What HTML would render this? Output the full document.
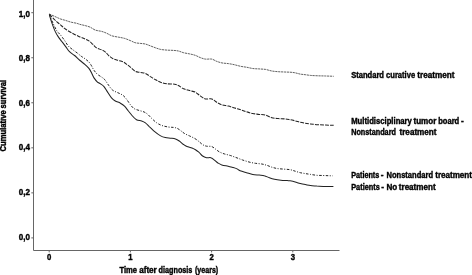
<!DOCTYPE html>
<html><head><meta charset="utf-8"><title>Cumulative survival</title>
<style>
html,body{margin:0;padding:0;background:#fff;}
svg{display:block;}
.t{font-family:"Liberation Sans",sans-serif;font-weight:bold;font-size:8.8px;fill:#000;stroke:#000;stroke-width:0.4px;}
.n{font-size:9.3px;}
.ax{stroke:#666;stroke-width:1;fill:none;}
.tk{stroke:#666;stroke-width:1;fill:none;}
.c{fill:none;stroke:#222;stroke-width:1;stroke-linejoin:round;}
</style></head><body>
<svg width="472" height="275" viewBox="0 0 472 275">
<rect width="472" height="275" fill="#fff"/>
<path class="ax" d="M33.5 0 V250.5 H339.5"/>
<line x1="31.3" y1="237.90" x2="33" y2="237.90" class="tk"/>
<text x="18.7" y="239.50" textLength="11.2" lengthAdjust="spacingAndGlyphs" class="t n">0,0</text>
<line x1="31.3" y1="192.86" x2="33" y2="192.86" class="tk"/>
<text x="18.7" y="194.94" textLength="11.2" lengthAdjust="spacingAndGlyphs" class="t n">0,2</text>
<line x1="31.3" y1="147.82" x2="33" y2="147.82" class="tk"/>
<text x="18.7" y="150.38" textLength="11.2" lengthAdjust="spacingAndGlyphs" class="t n">0,4</text>
<line x1="31.3" y1="102.78" x2="33" y2="102.78" class="tk"/>
<text x="18.7" y="105.82" textLength="11.2" lengthAdjust="spacingAndGlyphs" class="t n">0,6</text>
<line x1="31.3" y1="57.74" x2="33" y2="57.74" class="tk"/>
<text x="18.7" y="61.26" textLength="11.2" lengthAdjust="spacingAndGlyphs" class="t n">0,8</text>
<line x1="31.3" y1="12.70" x2="33" y2="12.70" class="tk"/>
<text x="18.7" y="16.70" textLength="11.2" lengthAdjust="spacingAndGlyphs" class="t n">1,0</text>
<line x1="49.20" y1="251" x2="49.20" y2="252.4" class="tk"/>
<text x="47.10" y="259.9" textLength="4.3" lengthAdjust="spacingAndGlyphs" class="t n">0</text>
<line x1="130.40" y1="251" x2="130.40" y2="252.4" class="tk"/>
<text x="128.30" y="259.9" textLength="4.3" lengthAdjust="spacingAndGlyphs" class="t n">1</text>
<line x1="211.60" y1="251" x2="211.60" y2="252.4" class="tk"/>
<text x="209.50" y="259.9" textLength="4.3" lengthAdjust="spacingAndGlyphs" class="t n">2</text>
<line x1="292.80" y1="251" x2="292.80" y2="252.4" class="tk"/>
<text x="290.70" y="259.9" textLength="4.3" lengthAdjust="spacingAndGlyphs" class="t n">3</text>

<path class="c" style="stroke:#2a2a2a;stroke-width:0.75;stroke-dasharray:2.2 0.7" d="M49.4 14.0 C50.3 14.4 53.1 15.7 54.9 16.5 C56.7 17.3 58.5 18.2 60.3 18.9 C62.1 19.6 64.0 19.9 65.8 20.5 C67.6 21.1 69.4 21.7 71.2 22.2 C73.0 22.7 75.2 22.9 76.7 23.3 C78.2 23.7 78.6 24.0 80.0 24.4 C81.4 24.8 83.4 25.1 85.1 25.6 C86.8 26.1 88.5 26.4 90.2 27.2 C91.9 27.9 93.4 29.4 95.3 30.1 C97.2 30.8 99.8 30.9 101.7 31.4 C103.6 31.9 105.1 32.6 106.8 33.3 C108.5 34.0 109.9 35.2 111.8 35.8 C113.7 36.4 116.1 36.7 118.2 37.1 C120.3 37.5 122.5 37.8 124.6 38.4 C126.7 39.0 129.2 40.2 131.0 40.9 C132.8 41.6 133.6 42.3 135.1 42.7 C136.6 43.1 138.5 43.2 140.2 43.4 C141.9 43.6 143.6 43.6 145.3 44.0 C147.0 44.4 148.7 45.3 150.4 45.9 C152.1 46.5 153.8 47.2 155.5 47.8 C157.2 48.4 158.7 49.0 160.6 49.4 C162.5 49.8 164.8 49.9 166.9 50.1 C169.0 50.3 171.4 50.2 173.3 50.4 C175.2 50.5 176.7 50.6 178.4 51.0 C180.1 51.4 181.6 52.2 183.5 52.7 C185.4 53.2 187.7 53.5 189.6 53.9 C191.5 54.3 193.4 54.7 195.2 55.3 C197.0 55.9 198.6 57.0 200.3 57.6 C202.0 58.2 203.5 58.9 205.4 59.1 C207.3 59.4 209.9 58.7 211.8 59.1 C213.7 59.5 215.1 60.8 216.8 61.4 C218.5 62.0 220.0 62.5 221.9 62.9 C223.8 63.3 226.2 63.3 228.3 63.6 C230.4 63.9 232.6 64.3 234.7 64.8 C236.8 65.3 239.1 66.0 241.1 66.4 C243.1 66.8 244.5 66.9 246.4 67.2 C248.3 67.5 250.6 68.2 252.7 68.5 C254.8 68.8 257.0 68.8 259.1 68.9 C261.2 69.1 263.4 69.1 265.5 69.4 C267.6 69.8 269.7 70.6 271.8 71.0 C273.9 71.4 276.1 71.5 278.2 71.7 C280.3 71.9 282.6 71.9 284.6 72.0 C286.6 72.1 288.2 72.1 290.0 72.2 C291.8 72.3 293.4 72.5 295.1 72.8 C296.8 73.1 298.5 73.8 300.2 74.1 C301.9 74.4 303.6 74.5 305.3 74.7 C307.0 74.9 308.3 75.2 310.4 75.4 C312.5 75.6 315.4 75.7 318.0 75.8 C320.6 75.9 323.1 75.9 325.7 76.0 C328.3 76.1 332.4 76.2 333.7 76.3"/>
<path class="c" style="stroke-width:1.05;stroke-dasharray:3.9 1.1" d="M49.4 14.2 C50.3 15.2 53.1 18.2 54.9 20.0 C56.7 21.8 58.5 23.1 60.3 24.7 C62.1 26.2 63.6 27.8 65.8 29.3 C68.0 30.8 70.9 32.5 73.3 33.8 C75.7 35.1 78.0 36.0 80.0 36.9 C82.0 37.8 83.6 38.3 85.1 39.0 C86.6 39.7 87.6 40.0 88.9 40.9 C90.2 41.8 91.4 43.0 92.7 44.2 C94.0 45.4 95.1 47.0 96.6 47.9 C98.1 48.8 100.2 49.2 101.7 49.9 C103.2 50.6 104.3 51.1 105.5 52.1 C106.7 53.1 107.4 54.5 108.7 55.6 C110.0 56.7 111.5 58.0 113.1 58.8 C114.7 59.6 116.5 59.9 118.2 60.4 C119.9 60.9 121.8 61.3 123.3 62.0 C124.8 62.7 125.8 63.6 127.1 64.6 C128.4 65.5 129.7 66.6 131.0 67.7 C132.3 68.8 133.6 70.4 135.1 71.2 C136.6 72.0 138.5 72.1 140.2 72.5 C141.9 72.9 143.6 72.7 145.3 73.4 C147.0 74.1 148.7 75.5 150.4 76.6 C152.1 77.6 153.8 78.8 155.5 79.7 C157.2 80.7 158.7 81.6 160.6 82.3 C162.5 83.0 164.6 83.5 166.9 83.8 C169.2 84.1 172.7 83.9 174.6 84.2 C176.5 84.5 176.9 84.8 178.4 85.5 C179.9 86.2 181.6 87.9 183.5 88.7 C185.4 89.5 187.7 90.0 189.6 90.6 C191.5 91.2 193.4 91.2 195.2 92.1 C197.0 93.0 198.6 94.8 200.3 95.9 C202.0 97.0 203.5 98.4 205.4 98.9 C207.3 99.4 209.9 98.3 211.8 98.9 C213.7 99.5 215.1 101.3 216.8 102.3 C218.5 103.3 220.0 104.2 221.9 104.8 C223.8 105.4 226.2 105.6 228.3 106.1 C230.4 106.6 232.6 107.4 234.7 108.0 C236.8 108.6 239.1 109.3 241.1 109.9 C243.1 110.5 244.5 111.2 246.4 111.8 C248.3 112.4 250.6 113.1 252.7 113.5 C254.8 113.9 257.0 114.1 259.1 114.4 C261.2 114.7 263.4 114.5 265.5 115.1 C267.6 115.6 269.7 117.1 271.8 117.7 C273.9 118.3 276.1 118.4 278.2 118.6 C280.3 118.8 282.6 118.7 284.6 118.9 C286.6 119.1 288.2 119.4 290.0 119.7 C291.8 120.0 293.4 120.4 295.1 120.8 C296.8 121.2 298.5 121.9 300.2 122.3 C301.9 122.7 303.6 123.0 305.3 123.3 C307.0 123.6 308.3 123.7 310.4 123.9 C312.5 124.1 315.4 124.5 318.0 124.7 C320.6 124.9 323.1 125.0 325.7 125.1 C328.3 125.2 332.4 125.2 333.7 125.2"/>
<path class="c" style="stroke-width:1;stroke-dasharray:2.6 1.5 1 1.5" d="M49.4 14.5 C49.9 15.8 51.3 19.3 52.5 22.0 C53.7 24.7 55.4 28.4 56.7 30.6 C58.1 32.8 59.3 33.5 60.6 35.1 C61.9 36.7 63.1 38.4 64.4 40.2 C65.7 42.0 66.9 44.4 68.2 45.9 C69.5 47.4 70.5 47.9 72.0 49.1 C73.5 50.3 75.5 51.7 77.1 52.9 C78.6 54.1 80.0 55.3 81.3 56.3 C82.6 57.3 83.8 57.8 85.1 58.8 C86.4 59.8 87.8 60.8 88.9 62.0 C90.0 63.2 90.7 64.4 91.5 65.8 C92.3 67.2 93.0 68.9 94.0 70.3 C95.0 71.7 96.0 73.0 97.2 74.1 C98.4 75.2 99.7 75.8 101.0 76.7 C102.3 77.6 103.5 78.2 104.8 79.7 C106.1 81.2 107.6 84.0 108.9 85.7 C110.2 87.5 111.2 89.0 112.7 90.2 C114.2 91.4 116.1 91.9 117.8 92.7 C119.5 93.5 121.4 94.2 122.9 95.3 C124.4 96.4 125.6 98.0 126.8 99.6 C128.0 101.1 129.1 103.1 130.3 104.6 C131.5 106.1 132.5 107.5 133.9 108.5 C135.3 109.5 137.3 109.8 139.0 110.4 C140.7 111.0 142.6 111.3 144.1 112.0 C145.6 112.7 146.6 113.4 147.9 114.5 C149.2 115.6 150.3 117.1 151.8 118.5 C153.3 119.9 155.1 121.7 156.8 122.9 C158.5 124.1 160.0 124.8 161.9 125.5 C163.8 126.2 166.4 126.7 168.3 127.0 C170.2 127.3 171.9 127.2 173.4 127.4 C174.9 127.6 176.0 127.8 177.2 128.3 C178.4 128.9 179.6 129.8 180.8 130.7 C182.0 131.6 183.1 132.6 184.5 133.5 C185.9 134.4 187.8 135.1 189.5 135.9 C191.2 136.7 193.2 137.6 194.8 138.5 C196.4 139.4 197.5 140.4 198.8 141.4 C200.1 142.4 201.3 143.8 202.6 144.6 C203.9 145.4 205.0 145.9 206.5 146.2 C208.0 146.5 210.1 146.0 211.6 146.5 C213.1 147.0 214.1 148.1 215.4 149.0 C216.7 149.9 217.7 151.0 219.2 151.8 C220.7 152.6 222.4 153.3 224.3 153.9 C226.2 154.5 228.6 154.9 230.7 155.6 C232.8 156.3 235.0 157.2 237.0 157.9 C239.0 158.6 240.6 159.3 242.6 160.0 C244.6 160.7 246.9 161.4 249.0 162.0 C251.1 162.6 253.3 163.0 255.4 163.3 C257.5 163.6 259.9 163.7 261.8 164.0 C263.7 164.3 265.1 164.8 266.8 165.3 C268.5 165.8 270.2 166.7 271.9 167.2 C273.6 167.7 275.1 168.2 277.0 168.5 C278.9 168.8 281.2 168.9 283.4 169.1 C285.6 169.3 288.1 169.3 290.1 169.7 C292.1 170.0 293.5 170.7 295.2 171.2 C296.9 171.7 298.6 172.3 300.3 172.7 C302.0 173.1 303.7 173.3 305.4 173.6 C307.1 173.9 308.6 174.1 310.5 174.4 C312.4 174.7 314.7 175.1 316.8 175.3 C318.9 175.5 321.3 175.4 323.2 175.5 C325.1 175.6 326.7 175.6 328.3 175.7 C329.9 175.8 332.1 175.8 332.8 175.8"/>
<path class="c" style="stroke-width:1.05" d="M49.4 14.8 C49.8 16.0 50.7 19.6 51.6 22.2 C52.5 24.8 53.7 28.2 54.8 30.6 C55.9 33.0 56.8 34.6 58.0 36.4 C59.2 38.2 60.5 39.8 61.8 41.5 C63.1 43.2 64.4 44.9 65.7 46.6 C67.0 48.3 68.0 50.2 69.5 51.7 C71.0 53.2 72.8 54.0 74.6 55.5 C76.3 57.0 78.2 59.0 80.0 60.5 C81.8 62.0 83.6 63.3 85.1 64.6 C86.6 65.9 87.8 67.0 88.9 68.4 C90.0 69.8 90.7 71.2 91.5 72.8 C92.3 74.4 93.0 76.4 94.0 77.9 C95.0 79.4 96.1 80.8 97.2 81.8 C98.3 82.8 99.4 83.0 100.5 83.8 C101.6 84.6 102.8 85.2 104.0 86.6 C105.2 88.0 106.3 90.2 107.6 92.1 C108.8 94.0 110.2 96.3 111.5 97.8 C112.8 99.3 113.8 100.1 115.3 101.0 C116.8 101.9 118.9 102.3 120.4 103.2 C121.9 104.1 123.2 104.9 124.5 106.2 C125.8 107.5 127.2 109.5 128.4 111.0 C129.7 112.5 130.7 114.0 132.0 115.5 C133.3 117.0 134.9 118.8 136.5 119.7 C138.1 120.6 140.1 120.5 141.6 121.0 C143.1 121.5 144.1 121.9 145.4 122.9 C146.7 123.9 147.9 125.3 149.5 126.8 C151.1 128.2 152.9 130.1 154.7 131.6 C156.5 133.1 158.4 134.6 160.2 135.6 C162.0 136.6 163.6 137.2 165.3 137.6 C167.0 138.0 168.7 138.0 170.4 138.2 C172.1 138.4 174.0 138.4 175.5 138.9 C177.0 139.4 178.0 140.1 179.3 141.0 C180.6 141.9 181.8 143.3 183.1 144.2 C184.4 145.1 185.4 145.9 186.9 146.5 C188.4 147.1 190.6 147.4 192.0 148.0 C193.4 148.6 194.4 149.1 195.5 149.8 C196.6 150.5 197.6 151.2 198.8 152.2 C200.0 153.2 201.3 155.1 202.6 156.0 C203.9 156.9 205.1 157.4 206.5 157.7 C207.9 158.0 209.6 157.3 210.9 157.7 C212.2 158.0 212.9 158.9 214.1 159.8 C215.3 160.7 216.6 162.2 217.9 163.0 C219.2 163.8 220.1 164.4 221.8 164.9 C223.5 165.4 226.2 165.8 228.1 166.2 C230.0 166.6 231.7 167.1 233.2 167.5 C234.7 167.9 235.8 168.3 237.0 168.9 C238.2 169.5 238.5 170.2 240.1 170.8 C241.7 171.4 244.4 172.1 246.5 172.7 C248.6 173.3 250.7 174.1 252.8 174.5 C254.9 174.9 257.3 174.9 259.2 175.1 C261.1 175.3 262.6 175.2 264.3 175.7 C266.0 176.1 267.7 177.2 269.4 177.8 C271.1 178.4 272.6 178.9 274.5 179.3 C276.4 179.7 278.8 180.0 280.9 180.2 C283.0 180.4 285.7 180.5 287.2 180.6 C288.7 180.7 288.8 180.6 290.1 180.8 C291.4 181.0 293.5 181.4 295.2 181.9 C296.9 182.4 298.6 183.2 300.3 183.6 C302.0 184.0 303.7 184.3 305.4 184.6 C307.1 184.9 308.6 185.2 310.5 185.5 C312.4 185.8 314.7 185.9 316.8 186.1 C318.9 186.2 321.3 186.3 323.2 186.4 C325.1 186.5 326.6 186.5 328.3 186.5 C330.0 186.5 332.5 186.5 333.4 186.5"/>
<g><text class="t" transform="translate(0 78.1)" x="351.2" textLength="32.8" lengthAdjust="spacingAndGlyphs">Standard</text><text class="t" transform="translate(0 78.1)" x="386.1" textLength="29.0" lengthAdjust="spacingAndGlyphs">curative</text><text class="t" transform="translate(0 78.1)" x="417.3" textLength="37.2" lengthAdjust="spacingAndGlyphs">treatment</text></g>
<g><text class="t" transform="translate(0 124.0)" x="351.2" textLength="60.7" lengthAdjust="spacingAndGlyphs">Multidisciplinary</text><text class="t" transform="translate(0 124.0)" x="413.5" textLength="22.8" lengthAdjust="spacingAndGlyphs">tumor</text><text class="t" transform="translate(0 124.0)" x="438.2" textLength="21.0" lengthAdjust="spacingAndGlyphs">board</text><text class="t" transform="translate(0 124.0) translate(460.9 0) scale(0.95 1)">-</text></g>
<g><text class="t" transform="translate(0 134.9)" x="351.2" textLength="44.7" lengthAdjust="spacingAndGlyphs">Nonstandard</text><text class="t" transform="translate(0 134.9)" x="399.5" textLength="37.0" lengthAdjust="spacingAndGlyphs">treatment</text></g>
<g><text class="t" transform="translate(0 178.0)" x="351.2" textLength="28.1" lengthAdjust="spacingAndGlyphs">Patients</text><text class="t" transform="translate(0 178.0) translate(380.8 0) scale(0.95 1)">-</text><text class="t" transform="translate(0 178.0)" x="386.5" textLength="46.5" lengthAdjust="spacingAndGlyphs">Nonstandard</text><text class="t" transform="translate(0 178.0)" x="435.2" textLength="36.8" lengthAdjust="spacingAndGlyphs">treatment</text></g>
<g><text class="t" transform="translate(0 190.2)" x="351.2" textLength="28.6" lengthAdjust="spacingAndGlyphs">Patients</text><text class="t" transform="translate(0 190.2) translate(381.2 0) scale(0.95 1)">-</text><text class="t" transform="translate(0 190.2)" x="386.5" textLength="10.8" lengthAdjust="spacingAndGlyphs">No</text><text class="t" transform="translate(0 190.2)" x="398.8" textLength="36.8" lengthAdjust="spacingAndGlyphs">treatment</text></g>
<g><text class="t" transform="translate(5.9 151.6) rotate(-90)" x="0.1" textLength="41.3" lengthAdjust="spacingAndGlyphs">Cumulative</text><text class="t" transform="translate(5.9 151.6) rotate(-90)" x="43.2" textLength="28.5" lengthAdjust="spacingAndGlyphs">survival</text></g>
<g><text class="t" transform="translate(0 273.0)" x="119.5" textLength="17.6" lengthAdjust="spacingAndGlyphs">Time</text><text class="t" transform="translate(0 273.0)" x="139.2" textLength="17.6" lengthAdjust="spacingAndGlyphs">after</text><text class="t" transform="translate(0 273.0)" x="158.6" textLength="33.8" lengthAdjust="spacingAndGlyphs">diagnosis</text><text class="t" transform="translate(0 273.0)" x="195.0" textLength="23.2" lengthAdjust="spacingAndGlyphs">(years)</text></g>
</svg>
</body></html>
